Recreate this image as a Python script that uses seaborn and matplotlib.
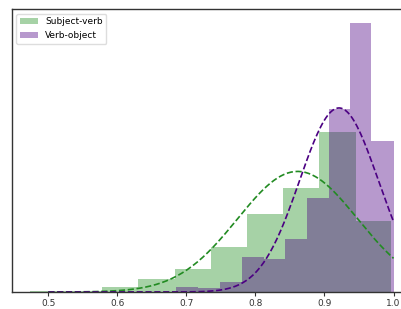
import numpy as np
import matplotlib
matplotlib.use("Agg")
import matplotlib.pyplot as plt
import seaborn as sns

# histogram bins (edges) and density heights
green_edges = [0.473, 0.525, 0.578, 0.630, 0.683, 0.735, 0.788, 0.840, 0.892, 0.945, 0.997]
green_density = [0.05, 0.05, 0.20, 0.49, 0.88, 1.70, 2.96, 3.96, 6.08, 2.71]

purple_edges = [0.685, 0.717, 0.749, 0.780, 0.812, 0.843, 0.874, 0.906, 0.937, 0.968, 1.000]
purple_density = [0.20, 0.16, 0.38, 1.34, 1.24, 2.01, 3.56, 6.97, 10.24, 5.73]

# fitted normal curves (mean, std)
green_fit = (0.861, 0.087)
purple_fit = (0.921, 0.057)

labels = ["Subject-verb", "Verb-object"]

fig = plt.figure(figsize=(4.02, 3.09), dpi=100)
ax = fig.add_axes([11.7 / 402, 17 / 309, 399.8 / 402, 282.7 / 309])

g_centers = [(a + b) / 2 for a, b in zip(green_edges[:-1], green_edges[1:])]
p_centers = [(a + b) / 2 for a, b in zip(purple_edges[:-1], purple_edges[1:])]

sns.histplot(x=g_centers, weights=green_density, bins=green_edges, color="green",
             alpha=0.35, linewidth=0, label=labels[0], ax=ax)
sns.histplot(x=p_centers, weights=purple_density, bins=purple_edges, color="indigo",
             alpha=0.4, linewidth=0, label=labels[1], ax=ax)

xs = np.linspace(0.5, 1.0, 200)
for (mu, sd), c in [(green_fit, "forestgreen"), (purple_fit, "indigo")]:
    ys = np.exp(-(xs - mu) ** 2 / (2 * sd ** 2)) / (sd * np.sqrt(2 * np.pi))
    sns.lineplot(x=xs, y=ys, color=c, linestyle="--", linewidth=1.2, ax=ax)

ax.set_xlim(0.447, 1.026)
ax.set_ylim(0, 10.75)
ax.set_yticks([])
ax.set_ylabel("")
ax.set_xticks([0.5, 0.6, 0.7, 0.8, 0.9, 1.0])
ax.set_xticklabels(["0.5", "0.6", "0.7", "0.8", "0.9", "1.0"])
ax.tick_params(axis="x", labelsize=6.5, length=3, width=0.8, colors="#333333", pad=2)
for s in ax.spines.values():
    s.set_color("#333333")
    s.set_linewidth(1.0)
ax.spines["right"].set_visible(False)

ax.legend(loc="upper left", fontsize=6.5, framealpha=1, edgecolor="#dddddd")

fig.savefig("out.png", dpi=100)
